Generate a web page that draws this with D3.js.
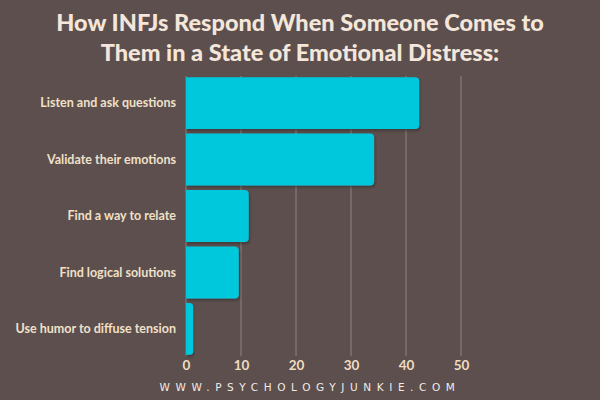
<!DOCTYPE html>
<html><head><meta charset="utf-8">
<script src="https://cdn.jsdelivr.net/npm/d3@7"></script>
<style>
html,body{margin:0;padding:0;background:#5c4f4e;}
svg{display:block;}
</style></head>
<body>
<svg id="chart" width="600" height="400"></svg>
<script>
const titleLines = ["How INFJs Respond When Someone Comes to", "Them in a State of Emotional Distress:"];
const categories = ["Listen and ask questions", "Validate their emotions", "Find a way to relate", "Find logical solutions", "Use humor to diffuse tension"];
const values = [42.4, 34.2, 11.4, 9.6, 1.3];
const tickValues = [0, 10, 20, 30, 40, 50];
const footer = "WWW.PSYCHOLOGYJUNKIE.COM";

const svg = d3.select("#chart");
svg.append("rect").attr("width",600).attr("height",400).attr("fill","#5c4f4e");

const font = "Lato, 'Open Sans', sans-serif";
svg.selectAll("text.title").data(titleLines).enter().append("text")
  .attr("class","title")
  .attr("x",300).attr("y",(d,i)=>31+i*30)
  .attr("text-anchor","middle")
  .attr("font-family",font).attr("font-weight",900).attr("font-size",23.5)
  .attr("fill","#f4e6da").text(d=>d);

const x = d3.scaleLinear().domain([0,50]).range([186,461]);
const y = d3.scaleBand().domain(categories).range([76,356]).paddingInner(0.08).paddingOuter(0.02);

const defs = svg.append("defs");
const f = defs.append("filter").attr("id","sh").attr("x","-10%").attr("y","-10%").attr("width","130%").attr("height","130%");
f.append("feDropShadow").attr("dx",1).attr("dy",2).attr("stdDeviation",1.2).attr("flood-color","#2a2a2a").attr("flood-opacity",0.6);

// gridlines
svg.append("g").selectAll("line").data(tickValues).enter().append("line")
  .attr("x1",d=>x(d)).attr("x2",d=>x(d))
  .attr("y1",76).attr("y2",356)
  .attr("stroke","#8f8482").attr("stroke-width",1);

// bars with right rounded corners
const r = 4;
svg.append("g").selectAll("path").data(values).enter().append("path")
  .attr("d",(d,i)=>{
    const x0 = x(0), x1 = x(d), y0 = y(categories[i]), h = y.bandwidth();
    const rr = Math.min(r, (x1-x0)/2);
    return `M${x0},${y0}H${x1-rr}Q${x1},${y0} ${x1},${y0+rr}V${y0+h-rr}Q${x1},${y0+h} ${x1-rr},${y0+h}H${x0}Z`;
  })
  .attr("fill","#00c8dc").attr("filter","url(#sh)");

// category labels
svg.append("g").selectAll("text").data(categories).enter().append("text")
  .attr("x",176).attr("y",d=>y(d)+y.bandwidth()/2)
  .attr("dy","0.35em").attr("text-anchor","end")
  .attr("font-family",font).attr("font-weight",700).attr("font-size",12.5)
  .attr("fill","#f0e0c8").text(d=>d);

// x axis tick labels
const axis = svg.append("g").attr("transform","translate(0,356)")
  .call(d3.axisBottom(x).tickValues(tickValues).tickSize(0).tickPadding(4).tickFormat(d3.format("d")));
axis.select(".domain").remove();
axis.selectAll("text").attr("font-family",font).attr("font-weight",700).attr("font-size",13.5).attr("fill","#efdcc0");

// footer
svg.append("text").attr("x",310).attr("y",391).attr("text-anchor","middle")
  .attr("font-family","'DejaVu Sans', sans-serif").attr("font-size",10.5)
  .attr("letter-spacing","5.6px").attr("fill","#f2ebe6").text(footer);
</script>
</body></html>
